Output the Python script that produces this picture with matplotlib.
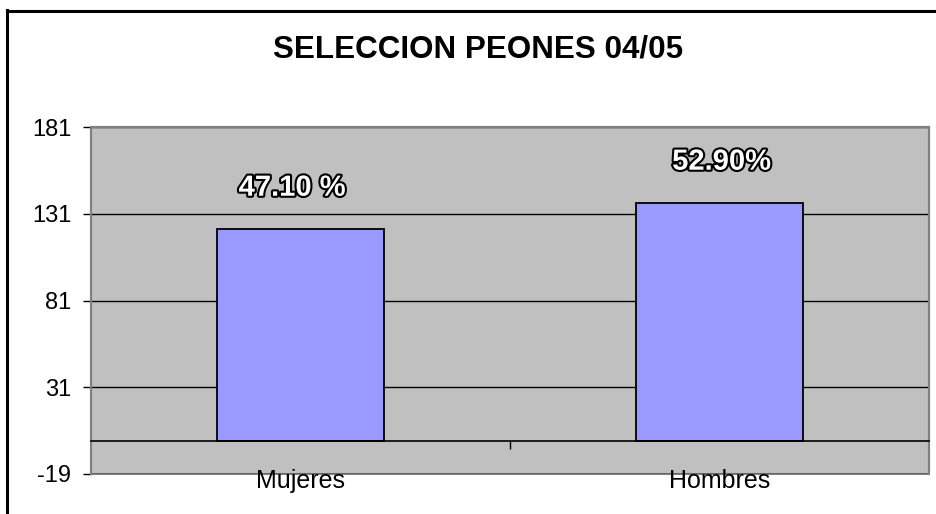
import matplotlib
matplotlib.use('Agg')
import matplotlib.pyplot as plt
import matplotlib.patheffects as pe
from matplotlib.lines import Line2D

plt.rcParams['font.family'] = ['Liberation Sans', 'DejaVu Sans']
plt.rcParams['axes.unicode_minus'] = False

# data
categorias = ['Mujeres', 'Hombres']
valores = [122, 137]
etiquetas = ['47.10 %', '52.90%']
y_ticks = [-19, 31, 81, 131, 181]

W, H = 936, 514
fig = plt.figure(figsize=(W / 100, H / 100), dpi=100)
ax = fig.add_axes([91 / W, 1 - 474 / H, (929 - 91) / W, (474 - 127) / H])

ax.set_facecolor('#C0C0C0')
ax.patch.set_edgecolor('#808080')
ax.patch.set_linewidth(1.5)

x = range(len(categorias))
ax.bar(x, valores, width=0.40, color='#9999FF', edgecolor='black', linewidth=1.3, zorder=3)

ax.set_xlim(-0.5, 1.5)
ax.set_ylim(-19, 181)
ax.set_yticks(y_ticks)
ax.set_yticklabels([str(t) for t in y_ticks], fontsize=17)
ax.yaxis.grid(True, color='black', linewidth=1)
ax.set_axisbelow(True)

# spines: gray frame, x axis crosses at zero
for s in ['left', 'right', 'top']:
    ax.spines[s].set_color('#808080')
    ax.spines[s].set_linewidth(1.5)
ax.spines['bottom'].set_position(('data', 0))
ax.spines['bottom'].set_color('black')
ax.spines['bottom'].set_linewidth(1.2)
ax.spines['bottom'].set_zorder(4)

ax.tick_params(axis='y', direction='out', length=5.8, width=1, color='black', pad=8.5)
ax.set_xticks(list(x))
ax.set_xticklabels(categorias, fontsize=18)
ax.tick_params(axis='x', which='major', length=0, pad=20)
ax.set_xticks([0.5], minor=True)
ax.tick_params(axis='x', which='minor', direction='out', length=5.8, width=1, color='black')

# outlined percentage labels
offs = [-0.02, 0.005]
for i, (v, t) in enumerate(zip(valores, etiquetas)):
    ax.text(i + offs[i], v + 24, t, ha='center', va='center', fontsize=21,
            fontweight='bold', color='white',
            path_effects=[pe.Stroke(linewidth=3, foreground='black'), pe.Normal()],
            zorder=5)

fig.text(478 / W, 1 - 49 / H, 'SELECCION PEONES 04/05', ha='center', va='center',
         fontsize=22.6, fontweight='bold')

# chart border (only left and top edges visible in the crop)
fig.add_artist(Line2D([7.5 / W, 7.5 / W], [0, 1 - 10 / H], color='black', linewidth=2.2,
                      transform=fig.transFigure))
fig.add_artist(Line2D([6.5 / W, 1], [1 - 10.5 / H, 1 - 10.5 / H], color='black', linewidth=2.2,
                      transform=fig.transFigure))

fig.savefig('out.png', dpi=100)
